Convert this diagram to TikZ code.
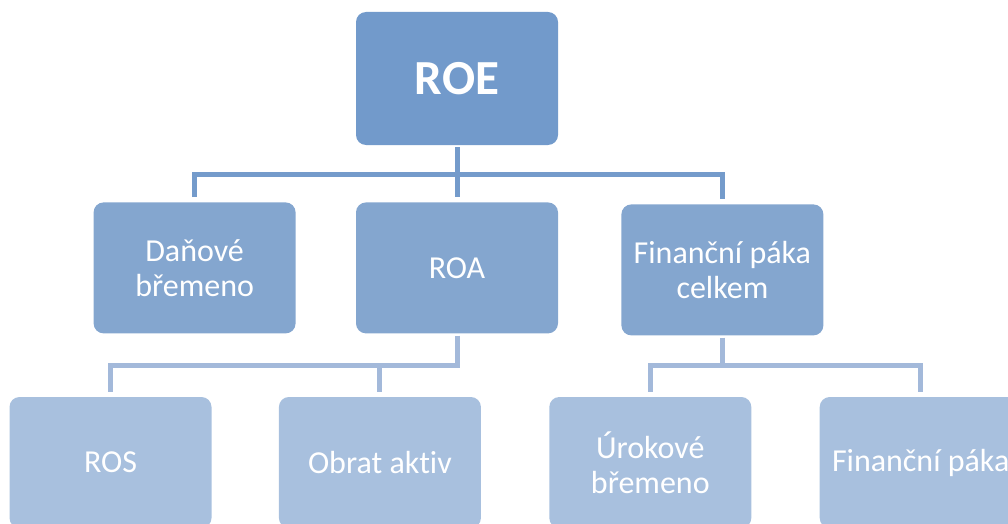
\documentclass[tikz,border=0pt]{standalone}
\usepackage{fontspec}
\setmainfont{Carlito}[Ligatures={NoCommon}]
\usetikzlibrary{positioning}
\definecolor{roeblue}{RGB}{114,154,203}
\definecolor{midblue}{RGB}{132,166,207}
\definecolor{lowblue}{RGB}{168,192,222}
\definecolor{darkline}{RGB}{116,155,203}
\definecolor{lightline}{RGB}{163,185,218}

\begin{document}
\begin{tikzpicture}[
	x=1pt, y=-1pt,
	box/.style={rectangle, rounded corners=10pt, minimum width=202pt, minimum height=131pt, inner sep=0pt, text=white, align=center, font=\fontsize{32}{35}\selectfont},
	rootbox/.style={box, fill=roeblue, minimum height=133pt, font=\fontsize{49}{55}\selectfont\bfseries},
	lvlone/.style={box, fill=midblue},
	lvltwo/.style={box, fill=lowblue},
	linkdark/.style={draw=darkline, line width=5pt, shorten <=2pt, shorten >=5pt},
	linklight/.style={draw=lightline, line width=5pt, shorten <=2pt, shorten >=5pt}
	]
	\useasboundingbox (0,0) rectangle (1008,524);
	\clip (0,0) rectangle (1008,524);
	
	\node[rootbox] (roe) at (457,78.5) {ROE};
	
	\node[lvlone, below=57pt of roe] (roa) {ROA};
	\node[lvlone, left=60pt of roa] (dan) {Daňové\\břemeno};
	\node[lvlone, right=63pt of roa, yshift=-2pt] (fpc) {Finanční páka\\celkem};
	
	\node[lvltwo] (ros) at (110.5,462.5) {ROS};
	\node[lvltwo, right=67pt of ros] (obr) {Obrat aktiv};
	\node[lvltwo, right=68pt of obr] (uro) {Úrokové\\břemeno};
	\node[lvltwo, right=68pt of uro] (fin) {Finanční páka};
	
	\coordinate (busA) at ([yshift=-29pt]roe.south);
	\coordinate (busB) at ([yshift=-32pt]roa.south);
	\coordinate (busC) at ([yshift=-30pt]fpc.south);
	
	\draw[linkdark] (roe.south) -- (roa.north);
	\draw[linkdark, shorten <=5pt] (dan.north) |- (busA) -| (fpc.north);
	
	\draw[linklight] (roa.south) -- (busB) -| (ros.north);
	\draw[linklight, shorten <=0pt] (busB -| obr.north) -- (obr.north);
	
	\draw[linklight] (fpc.south) -- (busC) -| (uro.north);
	\draw[linklight, shorten <=0pt] (busC) -| (fin.north);
\end{tikzpicture}
\end{document}
